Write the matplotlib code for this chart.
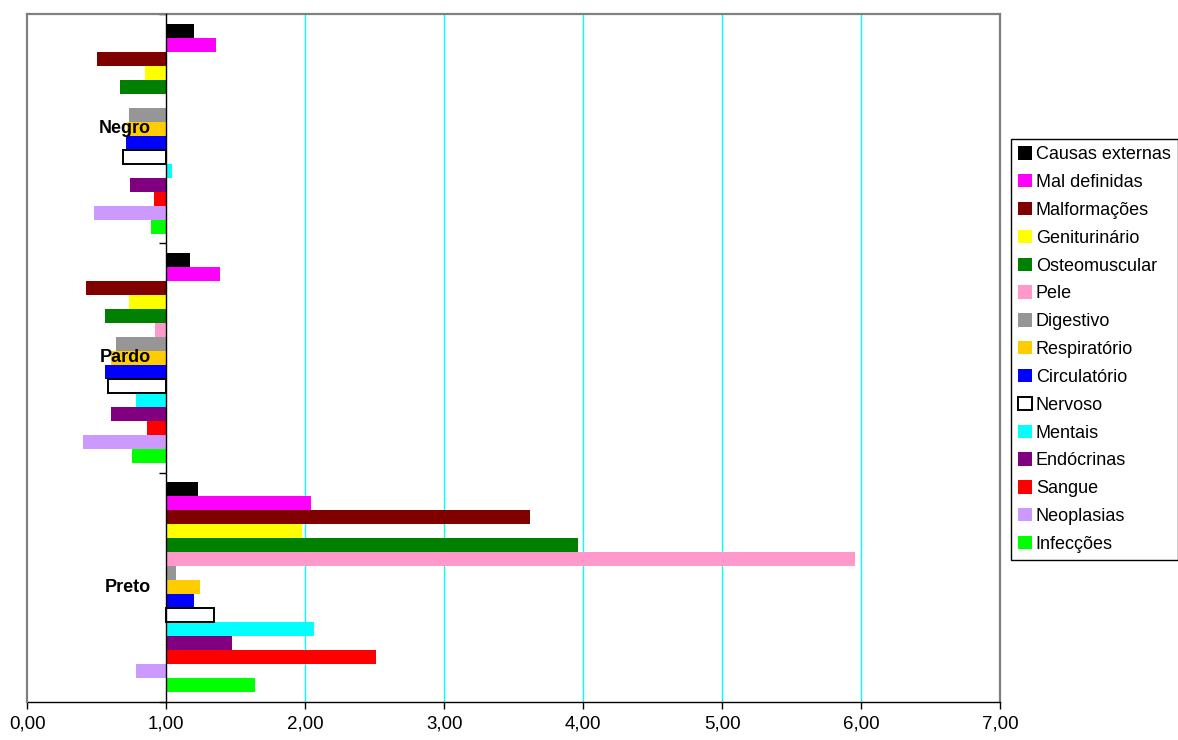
import matplotlib
matplotlib.use("Agg")
import matplotlib.pyplot as plt
import numpy as np

plt.rcParams['font.family'] = ['Liberation Sans', 'DejaVu Sans']

# Groups, bottom to top
groups = ['Preto', 'Pardo', 'Negro']

# Causes, in legend order (drawn top to bottom inside each group)
causes = ['Causas externas', 'Mal definidas', 'Malformações', 'Geniturinário',
          'Osteomuscular', 'Pele', 'Digestivo', 'Respiratório', 'Circulatório',
          'Nervoso', 'Mentais', 'Endócrinas', 'Sangue', 'Neoplasias', 'Infecções']

colors = ['#000000', '#FF00FF', '#800000', '#FFFF00', '#008000', '#FF99CC',
          '#969696', '#FFCC00', '#0000FF', '#FFFFFF', '#00FFFF', '#800080',
          '#FF0000', '#CC99FF', '#00FF00']

# Ratios per cause (same order as causes)
preto = [1.23, 2.04, 3.62, 1.98, 3.96, 5.96, 1.07, 1.24, 1.20, 1.34,
         2.06, 1.47, 2.51, 0.78, 1.64]
pardo = [1.17, 1.39, 0.42, 0.73, 0.56, 0.92, 0.64, 0.60, 0.56, 0.58,
         0.78, 0.60, 0.86, 0.40, 0.75]
negro = [1.20, 1.36, 0.50, 0.85, 0.67, np.nan, 0.73, 0.72, 0.71, 0.69,
         1.04, 0.74, 0.91, 0.48, 0.89]

x_ticks = [0, 1, 2, 3, 4, 5, 6, 7]
baseline = 1.0

W, H = 1178, 740
fig = plt.figure(figsize=(W / 100, H / 100), dpi=100)
ax = fig.add_axes([27.3 / W, 1 - 702 / H, (1000 - 27.3) / W, (702 - 14) / H])
ax.set_xlim(0, 7)
ax.set_ylim(0, 3)

table = np.array([preto, pardo, negro])  # shape (groups, causes)
bar_h = 0.061
centers = np.arange(len(groups)) + 0.5
handles = []
for ci, (cause, col) in enumerate(zip(causes, colors)):
    ys = centers + (7 - ci) * bar_h
    vals = table[:, ci]
    if cause == 'Nervoso':
        b = ax.barh(ys, vals - baseline, left=baseline, height=bar_h,
                    color='white', edgecolor='black', linewidth=1.4,
                    label=cause, zorder=3)
    else:
        b = ax.barh(ys, vals - baseline, left=baseline, height=bar_h,
                    color=col, linewidth=0, label=cause, zorder=2)
    handles.append(b)

# Group names next to the category axis
for c, g in zip(centers, groups):
    ax.text(0.89, c, g, ha='right', va='center', fontsize=13,
            fontweight='bold', zorder=6)

# Axes styling: category axis crosses at 1.00
ax.spines['left'].set_position(('data', baseline))
ax.spines['left'].set_color('black')
ax.spines['left'].set_linewidth(1.0)
ax.spines['left'].set_zorder(5)
for s in ('top', 'right'):
    ax.spines[s].set_color('#808080')
    ax.spines[s].set_linewidth(1.6)
ax.spines['bottom'].set_color('black')
ax.spines['bottom'].set_linewidth(1.0)
ax.axvline(0, color='#808080', linewidth=1.6, zorder=4, clip_on=False)

ax.set_yticks([0, 1, 2, 3])
ax.set_yticklabels([])
ax.tick_params(axis='y', direction='out', length=5, width=1, color='black')

ax.set_xticks(x_ticks)
ax.set_xticklabels([f'{v:.2f}'.replace('.', ',') for v in x_ticks], fontsize=13.5)
ax.tick_params(axis='x', direction='out', length=5, width=1, color='black', pad=5)
ax.set_axisbelow(True)
ax.xaxis.grid(True, color='#00FFFF', linewidth=1.0)
ax.yaxis.grid(False)
# vertical gridlines only between the frame edges
for v, gl in zip(x_ticks, ax.get_xgridlines()):
    if v in (0, 1, 7):
        gl.set_visible(False)

leg = fig.legend(handles=handles, loc='upper left',
                 bbox_to_anchor=(1011 / W, 1 - 139 / H), fontsize=13,
                 frameon=True, fancybox=False, edgecolor='black', framealpha=1,
                 handlelength=0.75, handleheight=0.75, handletextpad=0.22,
                 labelspacing=0.6, borderpad=0.4, borderaxespad=0)
leg.get_frame().set_linewidth(1.0)

fig.savefig('out.png', dpi=100)
